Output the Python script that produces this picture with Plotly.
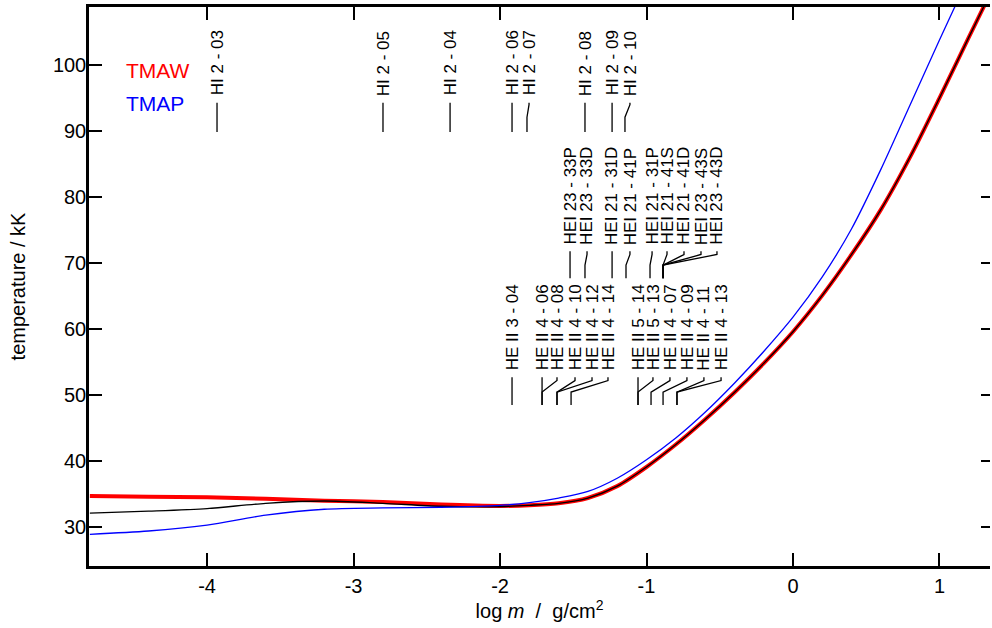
import plotly.graph_objects as go

# ---------------- data ----------------
tmaw_logm = [-4.8, -4.4, -4.0, -3.6, -3.2, -2.8, -2.4, -2.0, -1.8, -1.6, -1.4, -1.2,
             -1.0, -0.8, -0.6, -0.4, -0.2, 0.0, 0.2, 0.4, 0.6, 0.8, 1.0, 1.2, 1.35]
tmaw_temp = [34.7, 34.6, 34.5, 34.3, 34.0, 33.8, 33.4, 33.2, 33.3, 33.6, 34.4, 36.2,
             39.1, 42.5, 46.3, 50.4, 54.8, 59.6, 65.1, 71.3, 78.1, 86.1, 95.0, 104.2, 111.0]

black_logm = [-4.8, -4.4, -4.0, -3.6, -3.2, -2.8, -2.4, -2.0, -1.8, -1.6, -1.4, -1.2,
              -1.0, -0.8, -0.6, -0.4, -0.2, 0.0, 0.2, 0.4, 0.6, 0.8, 1.0, 1.2, 1.35]
black_temp = [32.1, 32.4, 32.8, 33.6, 33.95, 33.6, 33.15, 33.1, 33.3, 33.6, 34.4, 36.2,
              39.1, 42.5, 46.3, 50.4, 54.8, 59.6, 65.1, 71.3, 78.1, 86.1, 95.0, 104.2, 111.0]

tmap_logm = [-4.8, -4.4, -4.0, -3.6, -3.2, -2.8, -2.4, -2.0, -1.8, -1.6, -1.4, -1.2,
             -1.0, -0.8, -0.6, -0.4, -0.2, 0.0, 0.2, 0.4, 0.6, 0.8, 1.0, 1.15]
tmap_temp = [28.9, 29.4, 30.3, 31.8, 32.7, 32.9, 33.0, 33.3, 33.7, 34.4, 35.4, 37.4,
             40.2, 43.5, 47.4, 51.8, 56.6, 61.8, 67.9, 75.2, 84.2, 94.0, 103.8, 111.0]

# line identifications: label, log m of line foot, log m of label
hi_labels = ["HI 2 - 03", "HI 2 - 05", "HI 2 - 04", "HI 2 - 06", "HI 2 - 07",
             "HI 2 - 08", "HI 2 - 09", "HI 2 - 10"]
hi_foot = [-3.932, -2.799, -2.341, -1.918, -1.816, -1.420, -1.235, -1.147]
hi_text = [-3.932, -2.799, -2.341, -1.918, -1.802, -1.420, -1.235, -1.113]

hei_labels = ["HEI 23 - 33P", "HEI 23 - 33D", "HEI 21 - 31D", "HEI 21 - 41P",
              "HEI 21 - 31P", "HEI 21 - 41S", "HEI 21 - 41D", "HEI 23 - 43S", "HEI 23 - 43D"]
hei_foot = [-1.522, -1.420, -1.235, -1.140, -0.976, -0.887, -0.887, -0.887, -0.887]
hei_text = [-1.522, -1.406, -1.235, -1.113, -0.962, -0.860, -0.744, -0.628, -0.519]

heii_labels = ["HE II 3 - 04", "HE II 4 - 06", "HE II 4 - 08", "HE II 4 - 10",
               "HE II 4 - 12", "HE II 4 - 14", "HE II 5 - 14", "HE II 5 - 13",
               "HE II 4 - 07", "HE II 4 - 09", "HE II 4 - 11", "HE II 4 - 13"]
heii_foot = [-1.918, -1.713, -1.713, -1.611, -1.611, -1.515, -1.058, -1.058,
             -0.969, -0.887, -0.792, -0.792]
heii_text = [-1.918, -1.713, -1.611, -1.488, -1.372, -1.263, -1.058, -0.956,
             -0.840, -0.724, -0.608, -0.491]

x_ticks = [-4, -3, -2, -1, 0, 1]
x_ticktext = ["-4", "-3", "-2", "-1", "0", "1"]
y_ticks = [30, 40, 50, 60, 70, 80, 90, 100]

# ---------------- layout constants ----------------
FONT = "Liberation Sans, Arial, Helvetica, sans-serif"
XR = [-4.806, 1.345]
YR = [24.1, 108.8]
# connector levels (temperature units): foot, kink1, kink2, top, text base
LEVELS = {
    "hi": (89.85, 92.1, 94.0, 94.3, 94.6),
    "hei": (67.7, 69.7, 71.3, 71.8, 72.0),
    "heii": (48.5, 50.45, 52.2, 52.7, 53.0),
}

fig = go.Figure()

fig.add_trace(go.Scatter(x=tmaw_logm, y=tmaw_temp, mode="lines",
                         line=dict(color="#ff0000", width=4, shape="spline", smoothing=0.8),
                         showlegend=False))
fig.add_trace(go.Scatter(x=black_logm, y=black_temp, mode="lines",
                         line=dict(color="#000000", width=1.3, shape="spline", smoothing=0.8),
                         showlegend=False))

annotations = []
for key, labels, foot, text in (("hi", hi_labels, hi_foot, hi_text),
                                ("hei", hei_labels, hei_foot, hei_text),
                                ("heii", heii_labels, heii_foot, heii_text)):
    y0, y1, y2, y3, yt = LEVELS[key]
    xs, ys = [], []
    for lab, xf, xt in zip(labels, foot, text):
        xs += [xf, xf, xt, xt, None]
        ys += [y0, y1, y2, y3, None]
        annotations.append(dict(x=xt, y=yt, xref="x", yref="y", text=lab,
                                textangle=-90, showarrow=False, xanchor="center",
                                yanchor="bottom", borderpad=0, yshift=4,
                                font=dict(family=FONT, size=17, color="black")))
    fig.add_trace(go.Scatter(x=xs, y=ys, mode="lines", line=dict(color="black", width=1.3),
                             showlegend=False, hoverinfo="skip"))

# TMAP on the right-hand y axis (same range), which carries the mirrored ticks
fig.add_trace(go.Scatter(x=tmap_logm, y=tmap_temp, mode="lines", yaxis="y2",
                         line=dict(color="#0000ff", width=1.3, shape="spline", smoothing=0.8),
                         showlegend=False))

annotations.append(dict(x=0.039, y=0.887, xref="paper", yref="paper", text="TMAW",
                        showarrow=False, xanchor="left", yanchor="middle",
                        font=dict(family=FONT, size=21, color="#ff0000")))
annotations.append(dict(x=0.039, y=0.828, xref="paper", yref="paper", text="TMAP",
                        showarrow=False, xanchor="left", yanchor="middle",
                        font=dict(family=FONT, size=21, color="#0000ff")))

fig.update_layout(
    width=992, height=628,
    margin=dict(l=89, r=2, t=7, b=62, autoexpand=False),
    paper_bgcolor="white", plot_bgcolor="white",
    font=dict(family=FONT, size=20, color="black"),
    annotations=annotations,
    xaxis=dict(range=XR, tickvals=x_ticks, ticktext=x_ticktext, ticks="inside",
               ticklen=13, tickwidth=2, tickcolor="black", showline=True, linewidth=2.5,
               linecolor="black", mirror="ticks", showgrid=False, zeroline=False,
               automargin=False, tickfont=dict(size=20),
               title=dict(text="log <i>m</i>  /  g/cm<sup>2</sup>", font=dict(size=20),
                          standoff=3)),
    yaxis=dict(range=YR, tickvals=y_ticks, ticks="inside", ticklen=13, tickwidth=2,
               tickcolor="black", showline=True, linewidth=2.5, linecolor="black",
               mirror=False, showgrid=False, zeroline=False, automargin=False,
               tickfont=dict(size=20), ticklabelstandoff=-4,
               title=dict(text="temperature / kK", font=dict(size=20), standoff=22)),
    yaxis2=dict(range=YR, overlaying="y", side="right", anchor="x", tickvals=y_ticks,
                ticks="inside", ticklen=9, tickwidth=2, tickcolor="black", automargin=False,
                showline=False, showticklabels=False, showgrid=False, zeroline=False),
)

fig.write_html("out.html", config={"displayModeBar": False},
               post_script="document.body.style.margin='0';")
